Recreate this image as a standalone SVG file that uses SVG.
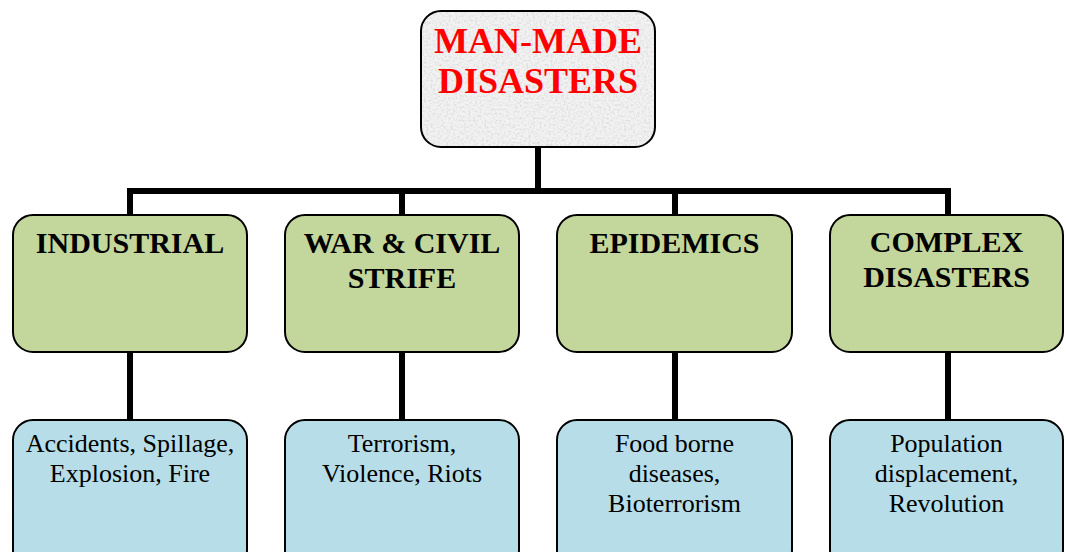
<svg xmlns="http://www.w3.org/2000/svg" width="1066" height="552" viewBox="0 0 1066 552">
  <defs>
    <!-- granite-like speckle for the root box -->
    <filter id="granite" x="0" y="0" width="100%" height="100%">
      <feTurbulence type="fractalNoise" baseFrequency="0.45" numOctaves="3" seed="7" result="noise"/>
      <feColorMatrix in="noise" type="matrix" values="0 0 0 0 0.62  0 0 0 0 0.62  0 0 0 0 0.62  0 0 0 -1.6 0.9" result="speck"/>
      <feComposite in="speck" in2="SourceGraphic" operator="in" result="clipped"/>
      <feMerge>
        <feMergeNode in="SourceGraphic"/>
        <feMergeNode in="clipped"/>
      </feMerge>
    </filter>
    <style>
      .box { stroke: #000; stroke-width: 2; }
      .root { fill: #f2f2f2; }
      .cat { fill: #c3d69b; }
      .sub { fill: #b7dee8; }
      .wire { stroke: #000; stroke-width: 6; fill: none; }
      .title { font-family: "Liberation Serif", "Times New Roman", serif; font-weight: bold; font-size: 36px; fill: #ff0000; text-anchor: middle; }
      .head { font-family: "Liberation Serif", "Times New Roman", serif; font-weight: bold; font-size: 30px; fill: #000; text-anchor: middle; }
      .body { font-family: "Liberation Serif", "Times New Roman", serif; font-size: 26px; fill: #000; text-anchor: middle; }
    </style>
  </defs>

  <!-- connectors -->
  <g id="connectors">
    <path class="wire" d="M538 147 V191"/>
    <path class="wire" d="M127 191 H951"/>
    <path class="wire" d="M130 191 V215 M402 191 V215 M675 191 V215 M948 191 V215"/>
    <path class="wire" d="M130 352 V420 M402 352 V420 M675 352 V420 M948 352 V420"/>
  </g>

  <!-- root -->
  <g id="man-made-disasters">
    <rect class="root" x="421" y="11" width="234" height="136" rx="20" filter="url(#granite)"/>
    <rect class="box" x="421" y="11" width="234" height="136" rx="20" fill="none"/>
    <text class="title" x="538" y="53">MAN-MADE</text>
    <text class="title" x="538" y="93">DISASTERS</text>
  </g>

  <!-- categories -->
  <g id="industrial">
    <rect class="box cat" x="13" y="215" width="234" height="137" rx="20"/>
    <text class="head" x="130" y="253">INDUSTRIAL</text>
  </g>
  <g id="war-civil-strife">
    <rect class="box cat" x="285" y="215" width="234" height="137" rx="20"/>
    <text class="head" x="402" y="253">WAR &amp; CIVIL</text>
    <text class="head" x="402" y="288">STRIFE</text>
  </g>
  <g id="epidemics">
    <rect class="box cat" x="557" y="215" width="235" height="137" rx="20"/>
    <text class="head" x="674.5" y="253">EPIDEMICS</text>
  </g>
  <g id="complex-disasters">
    <rect class="box cat" x="830" y="215" width="233" height="137" rx="20"/>
    <text class="head" x="946.5" y="252">COMPLEX</text>
    <text class="head" x="946.5" y="287">DISASTERS</text>
  </g>

  <!-- examples -->
  <g id="industrial-examples">
    <rect class="box sub" x="13" y="420" width="234" height="150" rx="20"/>
    <text class="body" x="130" y="452">Accidents, Spillage,</text>
    <text class="body" x="130" y="482">Explosion, Fire</text>
  </g>
  <g id="war-examples">
    <rect class="box sub" x="285" y="420" width="234" height="150" rx="20"/>
    <text class="body" x="402" y="452">Terrorism,</text>
    <text class="body" x="402" y="482">Violence, Riots</text>
  </g>
  <g id="epidemic-examples">
    <rect class="box sub" x="557" y="420" width="235" height="150" rx="20"/>
    <text class="body" x="674.5" y="452">Food borne</text>
    <text class="body" x="674.5" y="482">diseases,</text>
    <text class="body" x="674.5" y="512">Bioterrorism</text>
  </g>
  <g id="complex-examples">
    <rect class="box sub" x="830" y="420" width="233" height="150" rx="20"/>
    <text class="body" x="946.5" y="452">Population</text>
    <text class="body" x="946.5" y="482">displacement,</text>
    <text class="body" x="946.5" y="512">Revolution</text>
  </g>
</svg>
